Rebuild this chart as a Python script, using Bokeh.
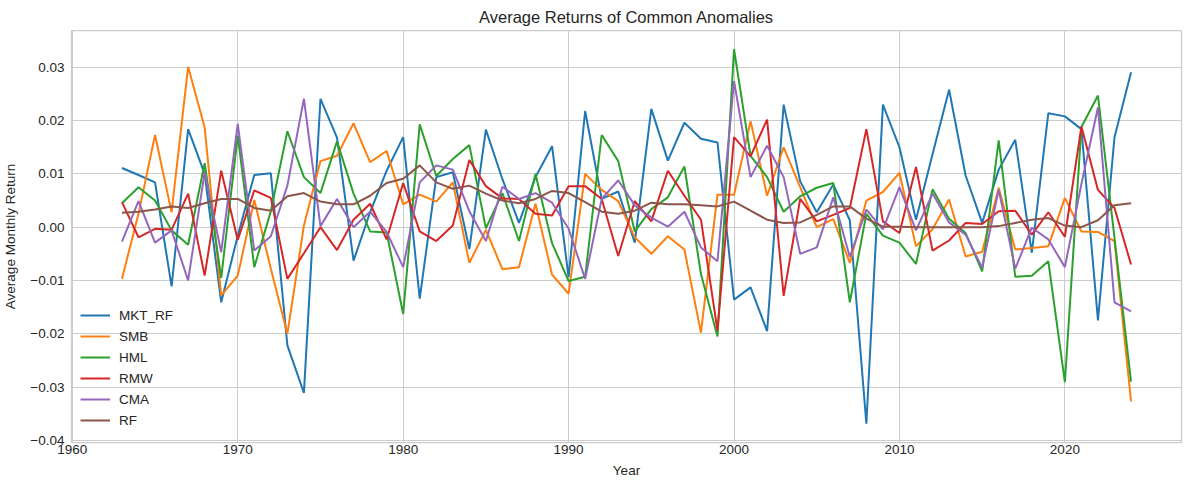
from bokeh.plotting import figure
from bokeh.models import Range1d, FixedTicker, Legend, LegendItem
from bokeh.embed import file_html
from bokeh.resources import INLINE

years = list(range(1963, 2025))

mkt_rf = [0.0111, 0.0098, 0.0084, -0.0111, 0.0184, 0.0100, -0.0141, -0.0016, 0.0098, 0.0101,
          -0.0222, -0.0311, 0.0241, 0.0168, -0.0063, 0.0028, 0.0106, 0.0169, -0.0134, 0.0094,
          0.0103, -0.0041, 0.0183, 0.0090, 0.0008, 0.0094, 0.0152, -0.0094, 0.0218, 0.0053,
          0.0067, -0.0029, 0.0222, 0.0125, 0.0196, 0.0166, 0.0159, -0.0136, -0.0113, -0.0195,
          0.0230, 0.0086, 0.0028, 0.0080, 0.0013, -0.0369, 0.0230, 0.0150, 0.0014, 0.0137,
          0.0258, 0.0097, 0.0008, 0.0108, 0.0164, -0.0048, 0.0214, 0.0208, 0.0184, -0.0175,
          0.0169, 0.0291]

smb = [-0.0097, 0.0025, 0.0173, 0.0028, 0.0301, 0.0187, -0.0128, -0.0091, 0.0051, -0.0078,
       -0.0200, 0.0003, 0.0124, 0.0134, 0.0195, 0.0122, 0.0143, 0.0043, 0.0061, 0.0048,
       0.0084, -0.0067, -0.0005, -0.0079, -0.0075, 0.0044, -0.0089, -0.0125, 0.0100, 0.0070,
       0.0049, -0.0019, -0.0050, -0.0017, -0.0042, -0.0198, 0.0061, 0.0061, 0.0199, 0.0059,
       0.0150, 0.0075, 0.0000, 0.0015, -0.0067, 0.0050, 0.0066, 0.0102, -0.0036, -0.0004,
       0.0052, -0.0055, -0.0046, 0.0074, -0.0042, -0.0039, -0.0036, 0.0055, -0.0008, -0.0009,
       -0.0026, -0.0327]

hml = [0.0045, 0.0075, 0.0050, -0.0006, -0.0033, 0.0120, -0.0095, 0.0172, -0.0075, 0.0030,
       0.0180, 0.0094, 0.0064, 0.0161, 0.0063, -0.0008, -0.0010, -0.0163, 0.0193, 0.0096,
       0.0128, 0.0154, -0.0002, 0.0064, -0.0026, 0.0100, -0.0030, -0.0101, -0.0093, 0.0173,
       0.0124, -0.0008, 0.0034, 0.0056, 0.0114, -0.0088, -0.0205, 0.0334, 0.0134, 0.0094,
       0.0029, 0.0058, 0.0074, 0.0083, -0.0141, 0.0025, -0.0016, -0.0029, -0.0069, 0.0071,
       0.0016, -0.0011, -0.0083, 0.0163, -0.0093, -0.0091, -0.0064, -0.0291, 0.0188, 0.0247,
       -0.0020, -0.0290]

rmw = [0.0047, -0.0019, -0.0003, -0.0005, 0.0063, -0.0091, 0.0106, -0.0024, 0.0069, 0.0055,
       -0.0097, -0.0049, 0.0000, -0.0043, 0.0014, 0.0044, -0.0023, 0.0083, -0.0008, -0.0026,
       0.0003, 0.0126, 0.0077, 0.0054, 0.0053, 0.0025, 0.0022, 0.0077, 0.0077, 0.0053,
       -0.0054, 0.0049, 0.0011, 0.0106, 0.0059, 0.0014, -0.0194, 0.0169, 0.0133, 0.0202,
       -0.0129, 0.0053, 0.0011, 0.0023, 0.0036, 0.0184, 0.0011, -0.0011, 0.0113, -0.0044,
       -0.0025, 0.0008, 0.0006, 0.0030, 0.0031, -0.0014, 0.0028, -0.0018, 0.0189, 0.0070,
       0.0036, -0.0070]

cma = [-0.0027, 0.0049, -0.0029, -0.0006, -0.0100, 0.0103, -0.0047, 0.0194, -0.0044, -0.0017,
       0.0078, 0.0241, 0.0002, 0.0053, 0.0000, 0.0029, -0.0009, -0.0075, 0.0084, 0.0116,
       0.0108, 0.0030, -0.0026, 0.0076, 0.0053, 0.0064, 0.0046, -0.0003, -0.0097, 0.0053,
       0.0088, 0.0041, 0.0018, 0.0001, 0.0029, -0.0038, -0.0064, 0.0274, 0.0094, 0.0153,
       0.0094, -0.0050, -0.0038, 0.0056, -0.0056, 0.0033, -0.0004, 0.0075, -0.0006, 0.0063,
       0.0009, -0.0014, -0.0076, 0.0070, -0.0078, -0.0001, -0.0023, -0.0075, 0.0081, 0.0225,
       -0.0141, -0.0158]

rf = [0.0027, 0.0029, 0.0033, 0.0039, 0.0036, 0.0045, 0.0053, 0.0053, 0.0036, 0.0031,
      0.0058, 0.0064, 0.0048, 0.0043, 0.0043, 0.0059, 0.0083, 0.0091, 0.0116, 0.0084,
      0.0072, 0.0078, 0.0063, 0.0050, 0.0045, 0.0053, 0.0068, 0.0064, 0.0047, 0.0029,
      0.0025, 0.0031, 0.0046, 0.0043, 0.0043, 0.0041, 0.0039, 0.0048, 0.0031, 0.0014,
      0.0008, 0.0009, 0.0023, 0.0039, 0.0039, 0.0016, 0.0001, 0.0001, 0.0000, 0.0000,
      0.0000, 0.0000, 0.0000, 0.0002, 0.0008, 0.0014, 0.0017, 0.0003, 0.0000, 0.0013,
      0.0041, 0.0045]

series_names = ["MKT_RF", "SMB", "HML", "RMW", "CMA", "RF"]
series_values = [mkt_rf, smb, hml, rmw, cma, rf]
series_colors = ["#1f77b4", "#ff7f0e", "#2ca02c", "#d62728", "#9467bd", "#8c564b"]

x_ticks = [1960, 1970, 1980, 1990, 2000, 2010, 2020]
x_tick_labels = ["1960", "1970", "1980", "1990", "2000", "2010", "2020"]
y_ticks = [-0.04, -0.03, -0.02, -0.01, 0.0, 0.01, 0.02, 0.03]
y_tick_labels = ["\u22120.04", "\u22120.03", "\u22120.02", "\u22120.01", "0.00", "0.01", "0.02", "0.03"]

FONT = "Liberation Sans"
TXT = "#262626"

# matplotlib-like 5% margins
xmin, xmax = min(years), max(years)
xpad = (xmax - xmin) * 0.05
all_vals = [v for s in series_values for v in s]
ymin, ymax = min(all_vals), max(all_vals)
ypad = (ymax - ymin) * 0.05

p = figure(
    frame_width=1110, frame_height=412,
    min_border_left=62, min_border_right=9, min_border_top=28, min_border_bottom=42,
    output_backend="svg", toolbar_location=None,
    x_range=Range1d(xmin - xpad, xmax + xpad),
    y_range=Range1d(ymin - ypad, ymax + ypad),
    title="Average Returns of Common Anomalies",
    background_fill_color="white", border_fill_color="white",
)

p.title.align = "center"
p.title.text_font = FONT
p.title.text_font_size = "16.5px"
p.title.text_font_style = "normal"
p.title.text_color = TXT
p.title.standoff = 10

p.xaxis.ticker = FixedTicker(ticks=x_ticks)
p.xaxis.major_label_overrides = dict(zip(x_ticks, x_tick_labels))
p.yaxis.ticker = FixedTicker(ticks=y_ticks)
p.yaxis.major_label_overrides = dict(zip(y_ticks, y_tick_labels))
p.xaxis.axis_label = "Year"
p.yaxis.axis_label = "Average Monthly Return"

for ax in (p.xaxis, p.yaxis):
    ax.axis_line_color = None
    ax.major_tick_line_color = None
    ax.minor_tick_line_color = None
    ax.major_tick_out = 0
    ax.major_tick_in = 0
    ax.major_label_text_font = FONT
    ax.major_label_text_font_size = "13.5px"
    ax.major_label_text_color = TXT
    ax.axis_label_text_font = FONT
    ax.axis_label_text_font_size = "13.5px"
    ax.axis_label_text_font_style = "normal"
    ax.axis_label_text_color = TXT
p.xaxis.major_label_standoff = 2
p.yaxis.major_label_standoff = 7
p.xaxis.axis_label_standoff = 6
p.yaxis.axis_label_standoff = 9

p.grid.grid_line_color = "#cccccc"
p.grid.grid_line_width = 1
p.outline_line_color = "#cccccc"
p.outline_line_width = 1.25

items = []
for name, vals, col in zip(series_names, series_values, series_colors):
    r = p.line(years, vals, line_color=col, line_width=2)
    items.append(LegendItem(label=name, renderers=[r]))

legend = Legend(
    items=items, location=(9, 12),
    glyph_width=30, glyph_height=20, label_height=20, label_width=40,
    spacing=1, padding=0, margin=0, label_standoff=9,
    border_line_alpha=0, background_fill_alpha=0,
    label_text_font=FONT, label_text_font_size="13.5px", label_text_color=TXT,
)
p.add_layout(legend)

open("out.html", "w").write(file_html(p, INLINE))
